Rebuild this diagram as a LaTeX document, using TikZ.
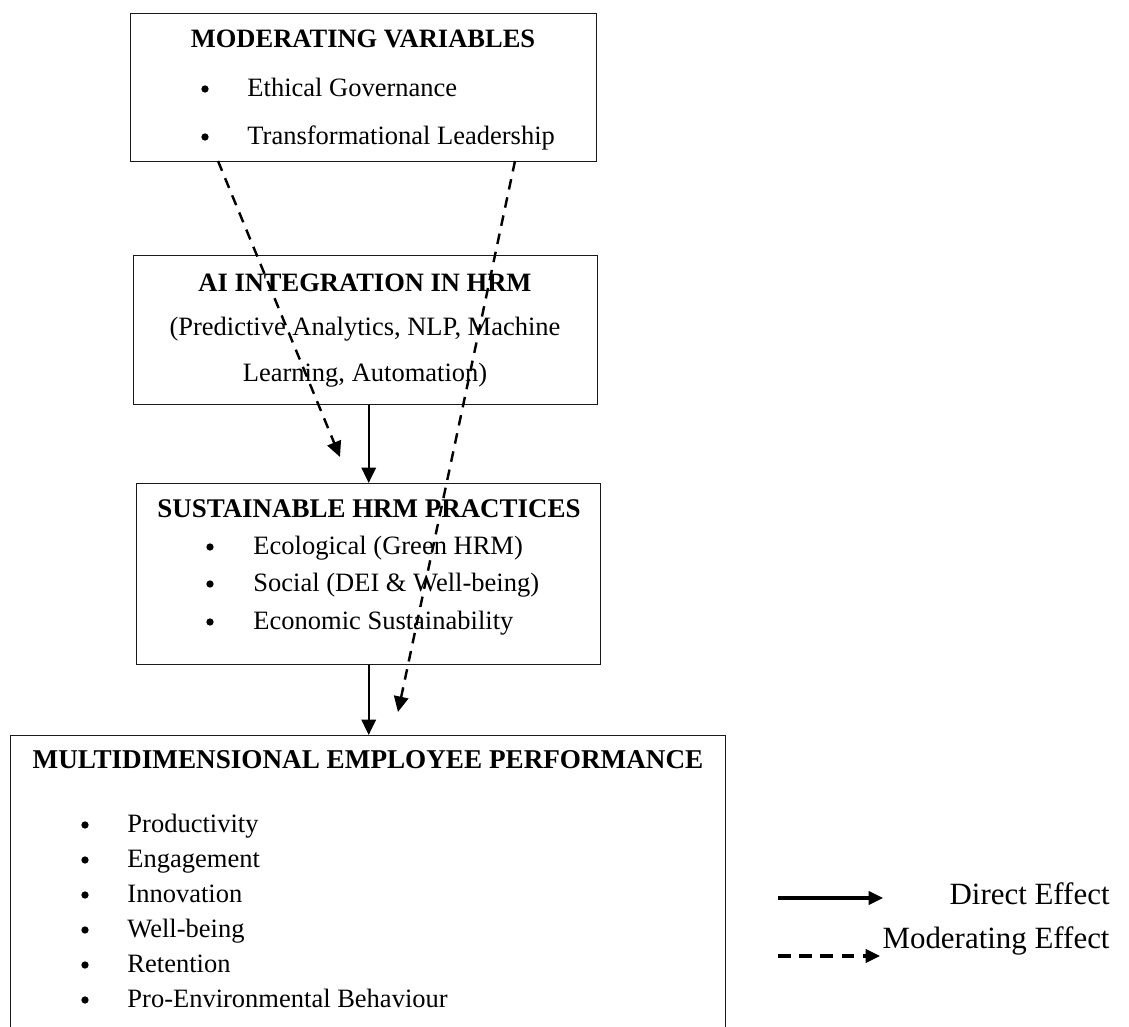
\documentclass[tikz,border=0pt]{standalone}
\usepackage{fontspec}
\setmainfont{Liberation Serif}
\usetikzlibrary{arrows.meta}
\begin{document}
\begin{tikzpicture}[x=0.4527pt,y=-0.4527pt,
  box/.style={draw=black!90,line width=0.65pt,inner sep=0pt,anchor=north west},
  head/.style={font=\fontsize{12}{14}\selectfont\bfseries,inner sep=0pt,anchor=base},
  bodyc/.style={font=\fontsize{12}{14}\selectfont,inner sep=0pt,anchor=base},
  item/.style={font=\fontsize{12}{14}\selectfont,inner sep=0pt,anchor=base west},
  bul/.style={circle,fill=black,inner sep=0pt,minimum size=3.3pt},
  direct/.style={line width=1.1pt,-{Triangle[length=7pt,width=6.5pt]}},
  moder/.style={line width=1.1pt,dash pattern=on 4.8pt off 3.6pt,-{Triangle[length=7pt,width=6.5pt]}},
  legdirect/.style={line width=1.4pt,-{Triangle[length=6.5pt,width=6pt]}},
  legmoder/.style={line width=1.4pt,dash pattern=on 5.8pt off 3.8pt,-{Triangle[length=6.5pt,width=6pt]}},
  legtext/.style={font=\fontsize{14}{16}\selectfont,inner sep=0pt,anchor=base east}]
\useasboundingbox (0,0) rectangle (1129,1027);
\clip (0,0) rectangle (1129,1027);

% boxes
\node[box,minimum width=466*0.4527pt,minimum height=148*0.4527pt] (mod) at (130,13) {};
\node[box,minimum width=464*0.4527pt,minimum height=149*0.4527pt] (ai) at (133,255) {};
\node[box,minimum width=464*0.4527pt,minimum height=181*0.4527pt] (sust) at (136,483) {};
\node[box,minimum width=715*0.4527pt,minimum height=330*0.4527pt] (perf) at (10,735) {};

% moderating variables
\node[head] (modt) at (363,48) {MODERATING VARIABLES};
\node[bul] (modb1) at (205,89) {};
\node[item] (modi1) at (247,97) {Ethical Governance};
\node[bul] (modb2) at (205,137) {};
\node[item] (modi2) at (247,145) {Transformational Leadership};

% AI integration
\node[head] (ait) at (365,292) {AI INTEGRATION IN HRM};
\node[bodyc] (ail1) at (365,336) {(Predictive Analytics, NLP, Machine};
\node[bodyc] (ail2) at (365,382) {Learning, Automation)};

% sustainable HRM
\node[head,font=\fontsize{12.2}{14}\selectfont\bfseries] (sustt) at (369,518) {SUSTAINABLE HRM PRACTICES};
\node[bul] (sb1) at (210,547) {};
\node[item] (si1) at (253,555) {Ecological (Green HRM)};
\node[bul] (sb2) at (210,584) {};
\node[item] (si2) at (253,592) {Social (DEI \& Well-being)};
\node[bul] (sb3) at (210,622) {};
\node[item] (si3) at (253,630) {Economic Sustainability};

% performance
\node[head,font=\fontsize{12.3}{14}\selectfont\bfseries] (perft) at (368,769) {MULTIDIMENSIONAL EMPLOYEE PERFORMANCE};
\node[bul] (pb1) at (85,825) {};
\node[item] (pi1) at (127,833) {Productivity};
\node[bul] (pb2) at (85,860) {};
\node[item] (pi2) at (127,868) {Engagement};
\node[bul] (pb3) at (85,895) {};
\node[item] (pi3) at (127,903) {Innovation};
\node[bul] (pb4) at (85,930) {};
\node[item] (pi4) at (127,938) {Well-being};
\node[bul] (pb5) at (85,965) {};
\node[item] (pi5) at (127,973) {Retention};
\node[bul] (pb6) at (85,1000) {};
\node[item] (pi6) at (127,1008) {Pro-Environmental Behaviour};

% direct effects
\draw[direct] (ai.south -| sust.north) -- (sust.north);
\draw[direct] (sust.south) -- (sust.south |- perf.north);

% moderating effects
\coordinate (m1) at (218,161);
\coordinate (m2) at (515,161);
\coordinate (e1) at (340,457);
\coordinate (e2) at (398,712);
\draw[moder] (m1) -- (e1);
\draw[moder] (m2) -- (e2);

% legend
\coordinate (la1) at (778,898);
\coordinate (lb1) at (883,898);
\coordinate (la2) at (778,956);
\coordinate (lb2) at (880,956);
\draw[legdirect] (la1) -- (lb1);
\draw[legmoder] (la2) -- (lb2);
\node[legtext] (lt1) at (1110,905) {Direct Effect};
\node[legtext] (lt2) at (1110,949) {Moderating Effect};
\end{tikzpicture}
\end{document}
